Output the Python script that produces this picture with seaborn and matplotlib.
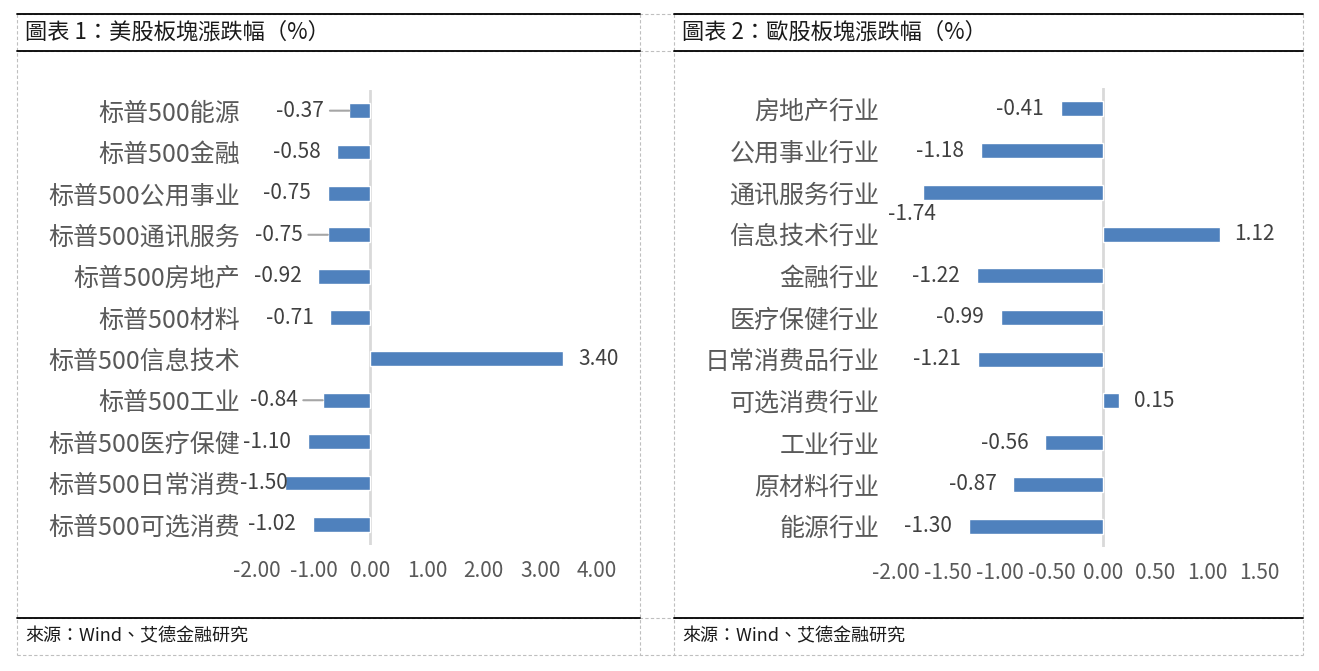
import matplotlib
matplotlib.use("Agg")
import matplotlib.pyplot as plt
from matplotlib.lines import Line2D
import seaborn as sns

# 数据
us_cats = ['标普500能源', '标普500金融', '标普500公用事业', '标普500通讯服务', '标普500房地产',
           '标普500材料', '标普500信息技术', '标普500工业', '标普500医疗保健', '标普500日常消费',
           '标普500可选消费']
us_vals = [-0.37, -0.58, -0.75, -0.75, -0.92, -0.71, 3.40, -0.84, -1.10, -1.50, -1.02]
us_ticks = [-2, -1, 0, 1, 2, 3, 4]

eu_cats = ['房地产行业', '公用事业行业', '通讯服务行业', '信息技术行业', '金融行业', '医疗保健行业',
           '日常消费品行业', '可选消费行业', '工业行业', '原材料行业', '能源行业']
eu_vals = [-0.41, -1.18, -1.74, 1.12, -1.22, -0.99, -1.21, 0.15, -0.56, -0.87, -1.30]
eu_ticks = [-2, -1.5, -1, -0.5, 0, 0.5, 1, 1.5]

titles = ['圖表 1：美股板塊漲跌幅（%）', '圖表 2：歐股板塊漲跌幅（%）']
source = '來源：Wind、艾德金融研究'

# 标签带引导线 / 贴着柱子 / 放到柱子下方的
us_leader = ['标普500能源', '标普500通讯服务', '标普500工业']
us_tight = ['标普500日常消费']
eu_below = ['通讯服务行业']

sns.set_style("white")
plt.rcParams['font.family'] = ['Noto Sans CJK SC', 'DejaVu Sans']
plt.rcParams['axes.unicode_minus'] = False

W, H = 1319, 671
fig = plt.figure(figsize=(W / 100, H / 100), dpi=100)

BLUE = '#4F81BD'


def fx(x):
    return x / W


def fy(y):
    return 1 - y / H


def hline(y, x0, x1, **kw):
    fig.add_artist(Line2D([fx(x0), fx(x1)], [fy(y), fy(y)], transform=fig.transFigure, **kw))


def vline(x, y0, y1, **kw):
    fig.add_artist(Line2D([fx(x), fx(x)], [fy(y0), fy(y1)], transform=fig.transFigure, **kw))


# 表格框线
grid = dict(color='#BFBFBF', lw=0.8, ls=(0, (3, 2)))
for y in [14, 51, 618, 655]:
    hline(y, 17, 1303, **grid)
for x in [17, 640, 674, 1303]:
    vline(x, 14, 655, **grid)
for x0, x1 in [(17, 640), (674, 1303)]:
    for y in [14, 51, 618]:
        hline(y, x0, x1, color='black', lw=1.3)

for i, x0 in enumerate([25, 682]):
    fig.text(fx(x0), fy(32), titles[i], fontsize=16, color='#1a1a1a',
             ha='left', va='center', family=['Noto Sans CJK TC', 'DejaVu Sans'])
    fig.text(fx(x0), fy(636), source, fontsize=13, color='#1a1a1a',
             ha='left', va='center', family=['Noto Sans CJK TC', 'DejaVu Sans'])


def draw(ax, cats, vals, ticks, xlim, leader=(), tight=(), below=()):
    sns.barplot(x=vals, y=cats, orient='h', color=BLUE, width=0.36,
                saturation=1, ax=ax)
    ax.set_xlim(xlim)
    ax.set_ylim(len(cats) - 0.5, -0.5)
    ax.axvline(0, color='#D9D9D9', lw=2, zorder=0)
    ax.set_xticks(ticks)
    ax.set_xticklabels(['%.2f' % t for t in ticks])
    ax.tick_params(axis='x', length=0, pad=11, labelsize=15, labelcolor='#595959')
    ax.tick_params(axis='y', length=0, pad=12, labelsize=18, labelcolor='#595959')
    ax.set_xlabel('')
    ax.set_ylabel('')
    for s in ax.spines.values():
        s.set_visible(False)
    ax.grid(False)
    for j, (c, v) in enumerate(zip(cats, vals)):
        lab = '%.2f' % v
        if c in below:
            ax.annotate(lab, (v, j), xytext=(-8, -8), textcoords='offset points',
                        ha='center', va='top', fontsize=15, color='#404040')
            continue
        off = 12
        if c in leader:
            off = 18
        if c in tight:
            off = -2
        if v < 0:
            ax.annotate(lab, (v, j), xytext=(-off, 0), textcoords='offset points',
                        ha='right', va='center', fontsize=15, color='#404040')
            if c in leader:
                ax.annotate('', (v, j), xytext=(-off + 4, 0), textcoords='offset points',
                            arrowprops=dict(arrowstyle='-', color='#A6A6A6', lw=1.5,
                                            shrinkA=0, shrinkB=0))
        else:
            ax.annotate(lab, (v, j), xytext=(off * 0.9, 0), textcoords='offset points',
                        ha='left', va='center', fontsize=15, color='#404040')


ax1 = fig.add_axes([fx(257), fy(545), fx(597) - fx(257), (545 - 90) / H])
draw(ax1, us_cats, us_vals, us_ticks, (-2, 4), leader=us_leader, tight=us_tight)

ax2 = fig.add_axes([fx(896), fy(547), fx(1259) - fx(896), (547 - 88) / H])
draw(ax2, eu_cats, eu_vals, eu_ticks, (-2, 1.5), below=eu_below)

fig.savefig('out.png', dpi=100, facecolor='white')
